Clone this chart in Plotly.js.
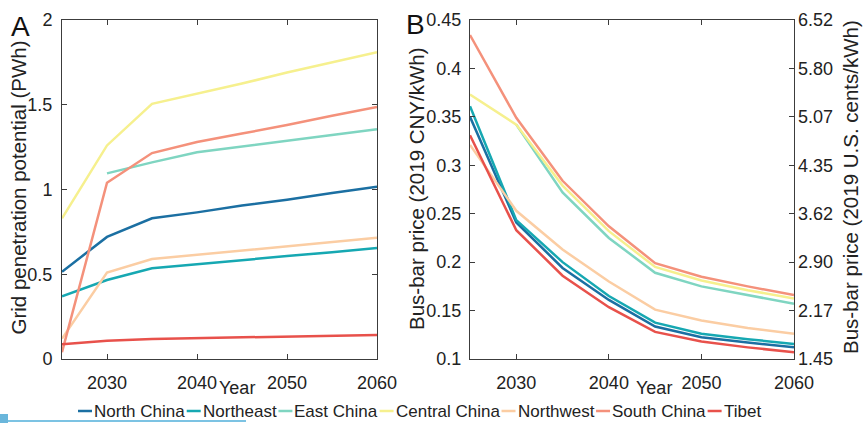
<!DOCTYPE html>
<html><head><meta charset="utf-8">
<script src="https://cdn.plot.ly/plotly-3.0.1.min.js"></script>
<style>html,body{margin:0;padding:0;background:#fff;overflow:hidden}</style>
</head><body><div id="chart" style="width:863px;height:423px"></div>
<script>
// ---------- data ----------
const years = [2025, 2030, 2035, 2040, 2045, 2050, 2055, 2060];
const regions = ['North China', 'Northeast', 'East China', 'Central China', 'Northwest', 'South China', 'Tibet'];

// Panel A: grid penetration potential (PWh)
const gridNorthChina   = [0.515, 0.72, 0.83, 0.865, 0.905, 0.94, 0.98, 1.017];
const gridNortheast    = [0.37, 0.466, 0.535, 0.56, 0.585, 0.607, 0.63, 0.655];
const gridEastChina    = [null, 1.095, 1.16, 1.22, 1.255, 1.29, 1.322, 1.355];
const gridCentralChina = [0.83, 1.26, 1.505, 1.565, 1.625, 1.69, 1.75, 1.81];
const gridNorthwest    = [0.12, 0.51, 0.59, 0.615, 0.64, 0.665, 0.69, 0.715];
const gridSouthChina   = [0.04, 1.04, 1.215, 1.28, 1.33, 1.38, 1.435, 1.487];
const gridTibet        = [0.087, 0.108, 0.118, 0.123, 0.128, 0.133, 0.137, 0.142];

// Panel B: bus-bar price (2019 CNY/kWh)
const priceNorthChina   = [0.35, 0.241, 0.194, 0.161, 0.1335, 0.1224, 0.117, 0.112];
const priceNortheast    = [0.361, 0.2434, 0.200, 0.165, 0.1375, 0.126, 0.1205, 0.1155];
const priceEastChina    = [null, 0.342, 0.272, 0.225, 0.189, 0.175, 0.166, 0.157];
const priceCentralChina = [0.373, 0.342, 0.279, 0.232, 0.195, 0.181, 0.171, 0.1625];
const priceNorthwest    = [0.321, 0.253, 0.213, 0.180, 0.151, 0.1397, 0.132, 0.126];
const priceSouthChina   = [0.4345, 0.349, 0.284, 0.237, 0.199, 0.185, 0.175, 0.166];
const priceTibet        = [0.331, 0.233, 0.186, 0.1535, 0.128, 0.118, 0.112, 0.107];

// tick labels
const xTicks = [2030, 2040, 2050, 2060];
const gridTicks = [0, 0.5, 1, 1.5, 2];
const gridTickText = ['0', '0.5', '1', '1.5', '2'];
const priceTicks = [0.1, 0.15, 0.2, 0.25, 0.3, 0.35, 0.4, 0.45];
const priceTickText = ['0.1', '0.15', '0.2', '0.25', '0.3', '0.35', '0.4', '0.45'];
const centsTickText = ['1.45', '2.17', '2.90', '3.62', '4.35', '5.07', '5.80', '6.52'];
const cnyToCents = 14.49;

// ---------- styles ----------
const colors = ['#1b6fa2', '#16a8b2', '#7fd5c1', '#f6f08e', '#fbcda3', '#f4917b', '#e8514b'];
const gridSeries = [gridNorthChina, gridNortheast, gridEastChina, gridCentralChina, gridNorthwest, gridSouthChina, gridTibet];
const priceSeries = [priceNorthChina, priceNortheast, priceEastChina, priceCentralChina, priceNorthwest, priceSouthChina, priceTibet];

const FONT = 'Liberation Sans, Arial, Helvetica, sans-serif';
const W = 863, H = 423, ML = 62, MR = 69, MT = 20, MB = 64;
const PW = W - ML - MR, PH = H - MT - MB;
const fx = px => (px - ML) / PW;
const fy = py => (H - MB - py) / PH;

const traces = [];
regions.forEach((name, i) => {
  traces.push({x: years, y: gridSeries[i], type: 'scatter', mode: 'lines', name: name,
    line: {color: colors[i], width: 2.5}, xaxis: 'x', yaxis: 'y', showlegend: false, connectgaps: false});
});
regions.forEach((name, i) => {
  traces.push({x: years, y: priceSeries[i], type: 'scatter', mode: 'lines', name: name,
    line: {color: colors[i], width: 2.5}, xaxis: 'x2', yaxis: 'y2', showlegend: false, connectgaps: false});
});
// same price series expressed in U.S. cents on the right-hand axis (drawn transparent; it only drives that axis)
traces.push({x: years, y: priceSouthChina.map(v => v == null ? null : v * cnyToCents), type: 'scatter', mode: 'lines',
  name: 'cents', line: {color: 'rgba(0,0,0,0)', width: 0}, xaxis: 'x2', yaxis: 'y3', showlegend: false, hoverinfo: 'skip'});

const axisCommon = {
  showline: true, linecolor: '#3c3c3c', linewidth: 1, mirror: 'ticks',
  ticks: 'inside', ticklen: 5, tickcolor: '#3c3c3c', tickwidth: 1,
  showgrid: false, zeroline: false, tickfont: {family: FONT, size: 18, color: '#222'}
};

const layout = {
  width: W, height: H,
  margin: {l: ML, r: MR, t: MT, b: MB, pad: 0},
  paper_bgcolor: '#fff', plot_bgcolor: '#fff',
  showlegend: false,
  font: {family: FONT, color: '#222'},
  xaxis: Object.assign({}, axisCommon, {domain: [0, fx(377)], anchor: 'y', range: [2025, 2060],
    tickvals: xTicks, ticktext: xTicks.map(String), ticklabelstandoff: 7}),
  yaxis: Object.assign({}, axisCommon, {domain: [0, 1], anchor: 'x', range: [0, 2],
    tickvals: gridTicks, ticktext: gridTickText, ticklabelstandoff: 5}),
  xaxis2: Object.assign({}, axisCommon, {domain: [fx(470), 1], anchor: 'y2', range: [2025, 2060],
    tickvals: xTicks, ticktext: xTicks.map(String), ticklabelstandoff: 7}),
  yaxis2: Object.assign({}, axisCommon, {domain: [0, 1], anchor: 'x2', range: [0.1, 0.45],
    tickvals: priceTicks, ticktext: priceTickText, ticklabelstandoff: 4}),
  yaxis3: {overlaying: 'y2', side: 'right', anchor: 'x2', range: [0.1 * cnyToCents, 0.45 * cnyToCents],
    tickvals: priceTicks.map(v => v * cnyToCents), ticktext: centsTickText,
    showline: false, ticks: '', showgrid: false, zeroline: false, ticklabelstandoff: 3,
    tickfont: {family: FONT, size: 18, color: '#222'}},
  annotations: [],
  shapes: []
};

const ann = (text, px, py, size, opts) => Object.assign({
  text: text, x: fx(px), y: fy(py), xref: 'paper', yref: 'paper', showarrow: false,
  xanchor: 'center', yanchor: 'middle', font: {family: FONT, size: size, color: '#222'}
}, opts || {});

layout.annotations.push(ann('A', 20.5, 26, 28, {font: {family: FONT, size: 28, color: '#111'}}));
layout.annotations.push(ann('B', 415, 25, 28, {font: {family: FONT, size: 28, color: '#111'}}));
layout.annotations.push(ann('Year', 237, 388, 18));
layout.annotations.push(ann('Year', 654, 388, 18));
layout.annotations.push(ann('Grid penetration potential (PWh)', 17.5, 188, 20.5, {textangle: -90}));
layout.annotations.push(ann('Bus-bar price (2019 CNY/kWh)', 416, 189, 20.5, {textangle: -90}));
layout.annotations.push(ann('Bus-bar price (2019 U.S. cents/kWh)', 851, 187, 20.5, {textangle: -90}));

// custom compact legend (short line + label)
const legendFontSize = 17;
const cvs = document.createElement('canvas').getContext('2d');
cvs.font = legendFontSize + 'px "Liberation Sans", Arial, sans-serif';
let lx = 78;
const ly = 411;
regions.forEach((name, i) => {
  layout.shapes.push({type: 'line', xref: 'paper', yref: 'paper', x0: fx(lx), x1: fx(lx + 14), y0: fy(ly), y1: fy(ly),
    line: {color: colors[i], width: 2.5}});
  const tw = cvs.measureText(name).width;
  layout.annotations.push({text: name, x: fx(lx + 15), y: fy(ly), xref: 'paper', yref: 'paper', showarrow: false,
    xanchor: 'left', yanchor: 'middle', font: {family: FONT, size: legendFontSize, color: '#222'}, borderpad: 0});
  lx += 15 + tw + 3;
});

// light-blue strip at bottom-left of the figure
layout.shapes.push({type: 'line', xref: 'paper', yref: 'paper', x0: fx(0), x1: fx(246), y0: fy(421), y1: fy(421),
  line: {color: '#7cc3e3', width: 2}});
layout.shapes.push({type: 'rect', xref: 'paper', yref: 'paper', x0: fx(0), x1: fx(8), y0: fy(423), y1: fy(414),
  fillcolor: '#6ab6db', line: {width: 0}});

Plotly.newPlot('chart', traces, layout, {displayModeBar: false, staticPlot: true});
</script></body></html>
